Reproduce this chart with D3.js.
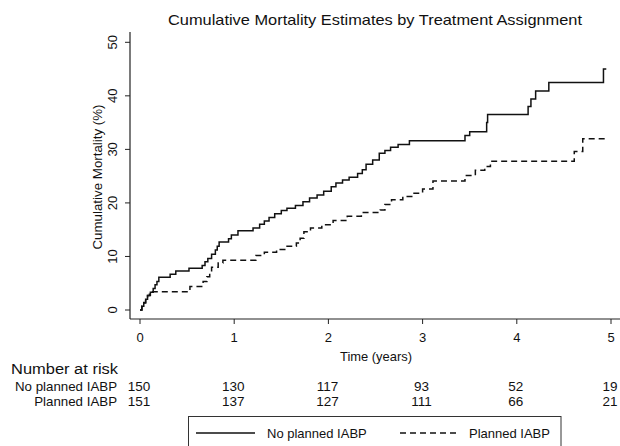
<!DOCTYPE html>
<html><head><meta charset="utf-8">
<script src="https://cdn.jsdelivr.net/npm/d3@7"></script>
<style>body{margin:0;background:#fff}svg{display:block}text{font-family:"Liberation Sans",Arial,sans-serif;fill:#111}</style>
</head><body>
<svg id="c" width="620" height="446"></svg>
<script>
const title = "Cumulative Mortality Estimates by Treatment Assignment";
const yTicks = [0, 10, 20, 30, 40, 50];
const xTicks = [0, 1, 2, 3, 4, 5];
const seriesNames = ["No planned IABP", "Planned IABP"];
const noPlanned = [[0,0],[0.02,0.7],[0.04,1.3],[0.06,2.0],[0.08,2.7],[0.11,3.3],[0.14,4.0],[0.16,4.7],[0.18,5.3],[0.20,6.1],[0.32,6.7],[0.38,7.3],[0.52,7.8],[0.66,8.3],[0.69,9.0],[0.72,9.6],[0.76,10.4],[0.80,11.2],[0.82,11.9],[0.84,12.7],[0.94,13.3],[0.97,14.0],[1.04,14.8],[1.20,15.3],[1.27,16.0],[1.32,16.6],[1.37,17.3],[1.43,18.0],[1.50,18.6],[1.56,19.0],[1.65,19.5],[1.73,20.2],[1.80,20.9],[1.88,21.5],[1.95,22.2],[2.03,23.0],[2.08,23.7],[2.15,24.3],[2.22,24.8],[2.31,25.5],[2.36,26.2],[2.40,27.2],[2.47,28.0],[2.54,29.3],[2.60,29.8],[2.66,30.4],[2.74,30.9],[2.86,31.6],[3.45,32.6],[3.50,33.3],[3.68,35.0],[3.69,36.5],[4.12,38.0],[4.15,39.4],[4.20,40.9],[4.34,42.5],[4.92,45.0],[4.95,45.0]];
const planned = [[0,0],[0.02,0.7],[0.04,1.4],[0.06,2.1],[0.08,2.7],[0.10,3.4],[0.53,4.4],[0.67,5.3],[0.71,6.2],[0.74,7.0],[0.76,8.0],[0.83,8.8],[0.88,9.3],[1.23,10.2],[1.32,10.8],[1.45,11.3],[1.55,11.9],[1.66,12.5],[1.70,13.4],[1.74,14.6],[1.81,15.3],[1.93,15.9],[2.05,16.7],[2.20,17.5],[2.35,18.2],[2.55,18.7],[2.60,19.7],[2.67,20.6],[2.79,21.2],[2.90,21.8],[3.00,22.6],[3.11,24.1],[3.45,25.1],[3.56,26.1],[3.66,26.8],[3.72,27.8],[4.61,29.6],[4.70,32.0],[4.95,32.0]];
const riskTimes = [0, 1, 2, 3, 4, 5];
const riskNoPlanned = [150, 130, 117, 93, 52, 19];
const riskPlanned = [151, 137, 127, 111, 66, 21];

const svg = d3.select("#c");
const x = d3.scaleLinear().domain([0, 5]).range([140, 611]);
const y = d3.scaleLinear().domain([0, 50]).range([310, 42.3]);
const axisX = 130, axisY = 319;

// title
svg.append("text").attr("x", 375).attr("y", 25).attr("text-anchor", "middle")
  .attr("font-size", 14.5).attr("textLength", 414).attr("lengthAdjust", "spacingAndGlyphs").text(title);

// axes lines
svg.append("line").attr("x1", axisX).attr("x2", axisX).attr("y1", 32).attr("y2", axisY).attr("stroke", "#222").attr("stroke-width", 1.2);
svg.append("line").attr("x1", axisX).attr("x2", 620).attr("y1", axisY).attr("y2", axisY).attr("stroke", "#222").attr("stroke-width", 1.2);

// y ticks
const yg = svg.append("g");
yTicks.forEach(v => {
  yg.append("line").attr("x1", axisX - 5).attr("x2", axisX).attr("y1", y(v)).attr("y2", y(v)).attr("stroke", "#222").attr("stroke-width", 1);
  yg.append("text").attr("transform", `translate(117,${y(v)}) rotate(-90)`).attr("text-anchor", "middle")
    .attr("font-size", 13).text(v);
});
svg.append("text").attr("transform", "translate(102,177) rotate(-90)").attr("text-anchor", "middle")
  .attr("font-size", 13).attr("textLength", 145).attr("lengthAdjust", "spacingAndGlyphs").text("Cumulative Mortality (%)");

// x ticks
xTicks.forEach(t => {
  svg.append("line").attr("x1", x(t)).attr("x2", x(t)).attr("y1", axisY).attr("y2", axisY + 5).attr("stroke", "#222").attr("stroke-width", 1);
  svg.append("text").attr("x", x(t)).attr("y", 341.5).attr("text-anchor", "middle").attr("font-size", 13).text(t);
});
svg.append("text").attr("x", 376).attr("y", 361).attr("text-anchor", "middle").attr("font-size", 13)
  .attr("textLength", 72).attr("lengthAdjust", "spacingAndGlyphs").text("Time (years)");

// curves
const line = d3.line().x(d => x(d[0])).y(d => y(d[1])).curve(d3.curveStepAfter);
svg.append("path").datum(noPlanned).attr("d", line).attr("fill", "none").attr("stroke", "#111").attr("stroke-width", 1.5);
svg.append("path").datum(planned).attr("d", line).attr("fill", "none").attr("stroke", "#111").attr("stroke-width", 1.5).attr("stroke-dasharray", "6,4");

// number at risk
svg.append("text").attr("x", 11).attr("y", 373.5).attr("font-size", 15.5)
  .attr("textLength", 107).attr("lengthAdjust", "spacingAndGlyphs").text("Number at risk");
const rows = [riskNoPlanned, riskPlanned];
const rowY = [391, 405.5];
rows.forEach((r, i) => {
  svg.append("text").attr("x", 117).attr("y", rowY[i]).attr("text-anchor", "end").attr("font-size", 13.3).text(seriesNames[i]);
  r.forEach((n, j) => {
    svg.append("text").attr("x", x(riskTimes[j]) - 1).attr("y", rowY[i]).attr("text-anchor", "middle").attr("font-size", 13.5).text(n);
  });
});

// legend
svg.append("rect").attr("x", 188.5).attr("y", 416.5).attr("width", 372.5).attr("height", 40).attr("fill", "none").attr("stroke", "#333").attr("stroke-width", 1);
svg.append("line").attr("x1", 196).attr("x2", 255).attr("y1", 433).attr("y2", 433).attr("stroke", "#111").attr("stroke-width", 1.5);
svg.append("text").attr("x", 267).attr("y", 437.5).attr("font-size", 13).text(seriesNames[0]);
svg.append("line").attr("x1", 400).attr("x2", 457).attr("y1", 433).attr("y2", 433).attr("stroke", "#111").attr("stroke-width", 1.5).attr("stroke-dasharray", "6,4");
svg.append("text").attr("x", 469).attr("y", 437.5).attr("font-size", 13).text(seriesNames[1]);
</script>
</body></html>
